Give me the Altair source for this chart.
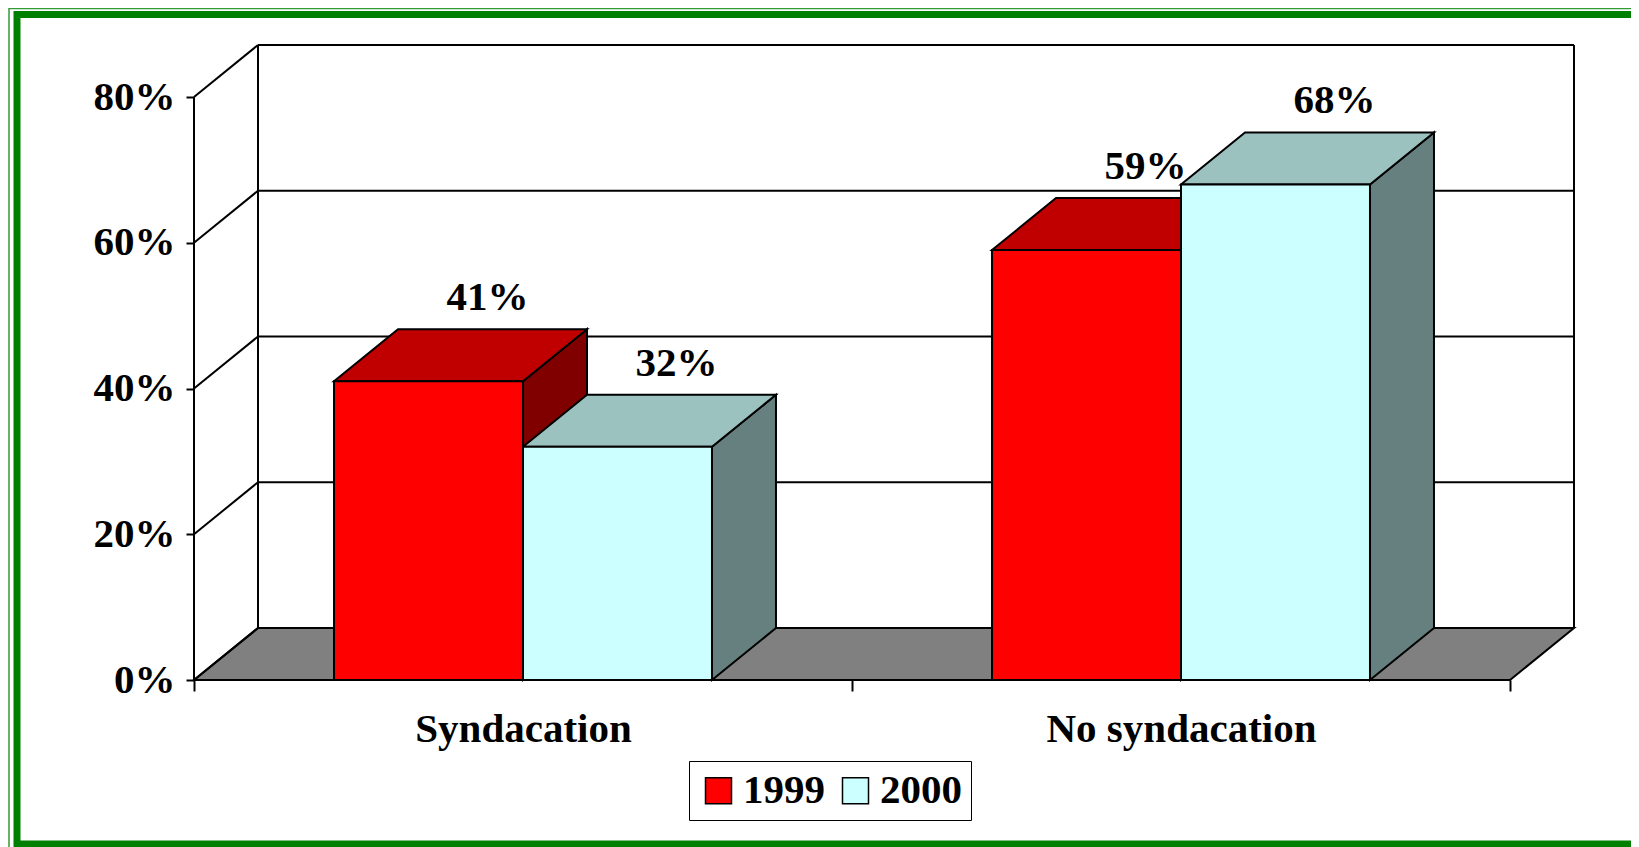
import altair as alt
import pandas as pd

# ---------------- data ----------------
categories = ["Syndacation", "No syndacation"]
years = ["1999", "2000"]
values_1999 = [41, 59]
values_2000 = [32, 68]
y_ticks = [0, 20, 40, 60, 80]

# ---------------- geometry / style ----------------
X_UNIT = 658.0          # px per category slot
Y_UNIT = 7.2875         # px per percentage point
DEPTH_X = 64 / X_UNIT   # 3-D depth offset in x units
DEPTH_Y = 52 / Y_UNIT   # 3-D depth offset in y units
BAR_W = 0.2872          # bar width in slot units
Y_MAX = 80
N = len(categories)
W = round((N + DEPTH_X) * X_UNIT)
H = round((Y_MAX + DEPTH_Y) * Y_UNIT)
PAD_L, PAD_T = 186, 37
TOTAL_W, TOTAL_H = 1623, 839

FONT = "Liberation Serif"
FS = 41
front_col = {"1999": "#FF0000", "2000": "#CCFFFF"}
top_col = {"1999": "#C00000", "2000": "#9CC2C0"}
side_col = {"1999": "#800000", "2000": "#668080"}
GREEN = "#008000"

series = {"1999": values_1999, "2000": values_2000}

# ---------------- build tables ----------------
fronts, tops, sides, labels = [], [], [], []
for ci, cat in enumerate(categories):
    for yi, yr in enumerate(years):
        v = series[yr][ci]
        L = ci + 0.5 - BAR_W + yi * BAR_W
        R = L + BAR_W
        bid = f"{cat}-{yr}"
        fronts.append(dict(cat=cat, year=yr, x=L, x2=R, y=0, y2=v))
        for px, py, py2 in [(L, v, v), (L + DEPTH_X, v, v + DEPTH_Y),
                            (R, v, v + DEPTH_Y), (R + DEPTH_X, v + DEPTH_Y, v + DEPTH_Y)]:
            tops.append(dict(bar=bid, year=yr, px=px, py=py, py2=py2))
        for px, py, py2 in [(R, 0, v), (R + DEPTH_X, DEPTH_Y, v + DEPTH_Y)]:
            sides.append(dict(bar=bid, year=yr, px=px, py=py, py2=py2))
        labels.append(dict(year=yr, x=L + BAR_W / 2 + DEPTH_X, y=v + DEPTH_Y, text=f"{v}%"))

fronts = pd.DataFrame(fronts)
tops = pd.DataFrame(tops)
sides = pd.DataFrame(sides)
labels = pd.DataFrame(labels)

floor = pd.DataFrame(dict(
    px=[0, DEPTH_X, N, N + DEPTH_X],
    py=[0, 0, 0, DEPTH_Y],
    py2=[0, DEPTH_Y, DEPTH_Y, DEPTH_Y],
))

segs = [dict(x=0, y=0, x2=0, y2=Y_MAX)]
for v in y_ticks:
    segs.append(dict(x=0, y=v, x2=DEPTH_X, y2=v + DEPTH_Y))
    if v > 0:
        segs.append(dict(x=DEPTH_X, y=v + DEPTH_Y, x2=N + DEPTH_X, y2=v + DEPTH_Y))
segs.append(dict(x=DEPTH_X, y=DEPTH_Y, x2=DEPTH_X, y2=Y_MAX + DEPTH_Y))
segs.append(dict(x=N + DEPTH_X, y=DEPTH_Y, x2=N + DEPTH_X, y2=Y_MAX + DEPTH_Y))
segs = pd.DataFrame(segs)

# ---------------- scales / axes ----------------
XS = alt.Scale(domain=[0, N + DEPTH_X], nice=False, zero=False)
YS = alt.Scale(domain=[0, Y_MAX + DEPTH_Y], nice=False, zero=False)

x_vals = []
for i in range(N + 1):
    x_vals.append(i)
    if i < N:
        x_vals.append(i + 0.5)
lab_expr = " : ".join(f"datum.value == {i + 0.5} ? '{c}'" for i, c in enumerate(categories)) + " : ''"

XA = alt.Axis(values=x_vals, labelExpr=lab_expr, title=None, domain=False, grid=False,
              tickSize=11, tickWidth=2, tickColor="black",
              tickOpacity={"condition": {"test": "datum.value % 1 != 0", "value": 0}, "value": 1},
              labelFont=FONT, labelFontSize=FS, labelFontWeight="bold", labelColor="black",
              labelPadding=18, labelOverlap=False, labelBound=False, labelFlush=False,
              labelBaseline="top", labelLimit=0)
YA = alt.Axis(values=y_ticks, labelExpr="datum.value + '%'", title=None, domain=False, grid=False,
              tickSize=8, tickWidth=2, tickColor="black",
              labelFont=FONT, labelFontSize=FS, labelFontWeight="bold", labelColor="black",
              labelPadding=11)


def X(f):
    return alt.X(f, type="quantitative", scale=XS, axis=XA)


def Y(f):
    return alt.Y(f, type="quantitative", scale=YS, axis=YA, stack=None)


# ---------------- layers ----------------
one = pd.DataFrame({"a": [0]})
border_thin = alt.Chart(one).mark_rect(fillOpacity=0, stroke=GREEN, strokeWidth=1.5, strokeOpacity=0.8).encode(
    x=alt.value(1 - PAD_L), x2=alt.value(2000), y=alt.value(0.5 - PAD_T), y2=alt.value(2000))
border_thick = alt.Chart(one).mark_rect(fillOpacity=0, stroke=GREEN, strokeWidth=7).encode(
    x=alt.value(9 - PAD_L), x2=alt.value(2000), y=alt.value(6.5 - PAD_T), y2=alt.value(TOTAL_H - 3 - PAD_T))

floor_l = alt.Chart(floor).mark_area(fill="#808080", stroke="black", strokeWidth=2, orient="vertical").encode(
    x=X("px"), y=Y("py"), y2="py2")

rules_l = alt.Chart(segs).mark_rule(color="black", strokeWidth=2).encode(
    x=X("x"), y=Y("y"), x2="x2", y2="y2")

layers = [border_thin, border_thick, floor_l, rules_l]
for tbl, cols in [(sides, side_col), (tops, top_col)]:
    for yr in years:
        sub = tbl[tbl["year"] == yr]
        layers.append(
            alt.Chart(sub).mark_area(stroke="black", strokeWidth=2, orient="vertical", fillOpacity=1).encode(
                x=X("px"), y=Y("py"), y2="py2", detail="bar:N", fill=alt.value(cols[yr]))
        )

front_l = alt.Chart(fronts).mark_rect(stroke="black", strokeWidth=2, opacity=1).encode(
    x=X("x"), x2="x2", y=Y("y"), y2="y2",
    color=alt.Color("year:N", scale=alt.Scale(domain=years, range=[front_col[y] for y in years]),
                    legend=alt.Legend(orient="none", legendX=495, legendY=716, direction="horizontal",
                                      title=None, symbolType="square", symbolSize=676,
                                      symbolStrokeColor="black", symbolStrokeWidth=1.5,
                                      labelFont=FONT, labelFontSize=FS, labelFontWeight="bold",
                                      labelColor="black", strokeColor="black", fillColor="white",
                                      padding=9, columnPadding=10, labelOffset=4, symbolOpacity=1)),
    order=alt.Order("year:N"))
layers.append(front_l)

text_l = alt.Chart(labels).mark_text(font=FONT, fontSize=FS, fontWeight="bold", color="black",
                                     align="center", baseline="alphabetic", dy=-19, dx=-5).encode(
    x=X("x"), y=Y("y"), text="text:N")
layers.append(text_l)

chart = alt.layer(*layers).properties(
    width=W, height=H,
    autosize=alt.AutoSizeParams(type="none"),
    padding={"left": PAD_L, "top": PAD_T, "right": TOTAL_W - PAD_L - W, "bottom": TOTAL_H - PAD_T - H},
    background="white",
).configure_view(stroke=None)

chart.save("out.html", embed_options={"renderer": "svg", "actions": False})
